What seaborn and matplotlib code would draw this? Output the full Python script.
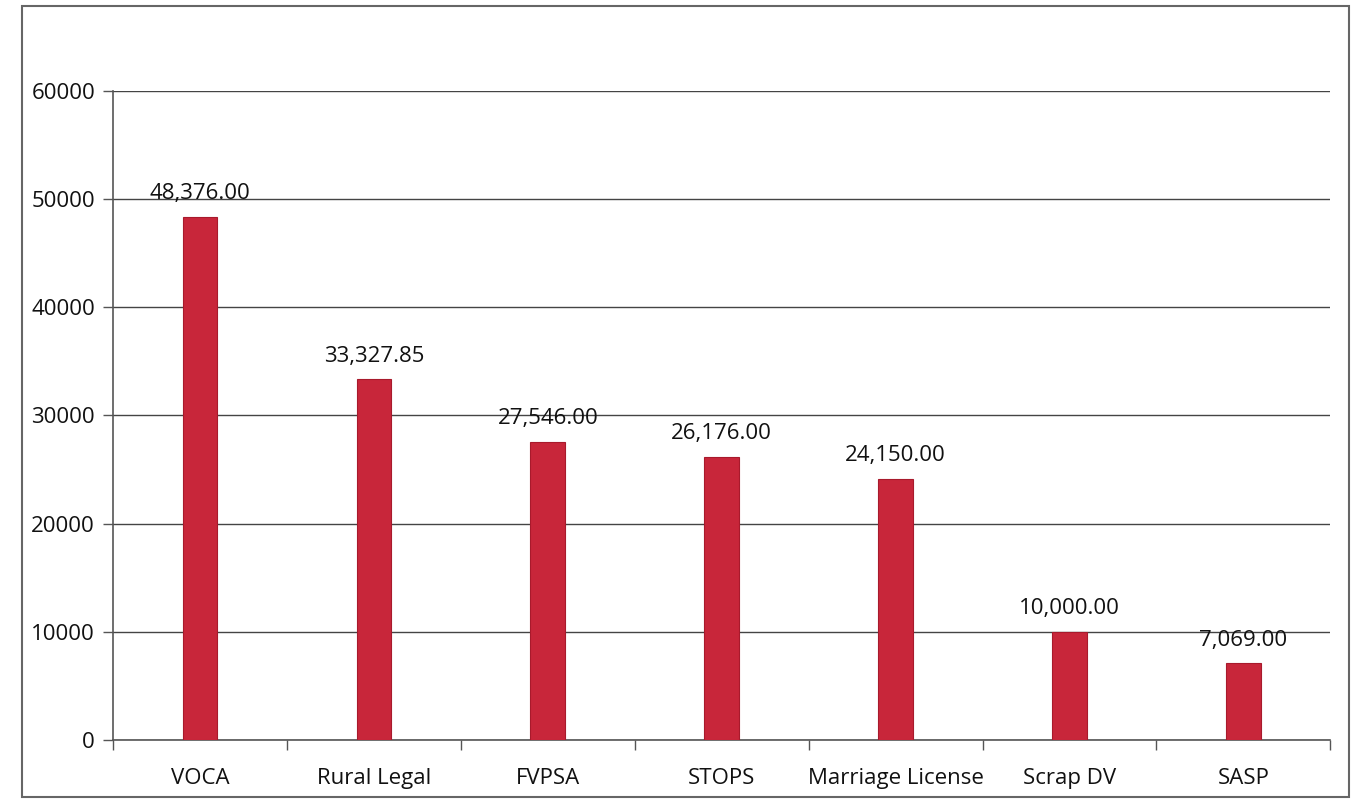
import matplotlib
matplotlib.use("Agg")
import matplotlib.pyplot as plt
import seaborn as sns
import pandas as pd
import numpy as np
from matplotlib.patches import Rectangle

categories = ["VOCA", "Rural Legal", "FVPSA", "STOPS", "Marriage License", "Scrap DV", "SASP"]
values = [48376.00, 33327.85, 27546.00, 26176.00, 24150.00, 10000.00, 7069.00]
yticks = [0, 10000, 20000, 30000, 40000, 50000, 60000]

sns.set_theme(style="white")
plt.rcParams['font.family'] = ['Open Sans', 'DejaVu Sans']

df = pd.DataFrame({"category": categories, "value": values})

fig = plt.figure(figsize=(13.63, 8.05), dpi=100)
ax = fig.add_axes([0.083, 0.081, 0.893, 0.806])

sns.barplot(data=df, x="category", y="value", color="#C8263A", width=0.2,
            edgecolor="#A81a2c", linewidth=0.8, ax=ax, saturation=1, zorder=3)

ax.set_ylim(0, 60000)
ax.set_xlim(-0.5, len(categories) - 0.5)
ax.set_yticks(yticks)
ax.set_yticklabels([str(t) for t in yticks], fontsize=16, color="#111111")
ax.set_xlabel("")
ax.set_ylabel("")
ax.tick_params(axis="x", which="major", labelsize=16, length=0, pad=20, colors="#111111")
ax.tick_params(axis="y", left=True, length=7, width=1, color="#555555", direction="out", pad=6)
ax.set_xticks(np.arange(-0.5, len(categories)), minor=True)
ax.tick_params(axis="x", which="minor", bottom=True, length=7, width=1, color="#555555", direction="out")

ax.grid(axis="y", color="#444444", linewidth=1, zorder=0)
for s in ["top", "right"]:
    ax.spines[s].set_visible(False)
for s in ["left", "bottom"]:
    ax.spines[s].set_color("#555555")
    ax.spines[s].set_linewidth(1.2)

for i, v in enumerate(values):
    ax.annotate(f"{v:,.2f}", (i, v), xytext=(0, 9), textcoords="offset points",
                ha="center", va="bottom", fontsize=16, color="#111111", zorder=4)

fig.patches.append(Rectangle((0.016, 0.01), 0.974, 0.982, transform=fig.transFigure,
                             fill=False, edgecolor="#666666", linewidth=1.5))

fig.savefig("out.png", dpi=100)
